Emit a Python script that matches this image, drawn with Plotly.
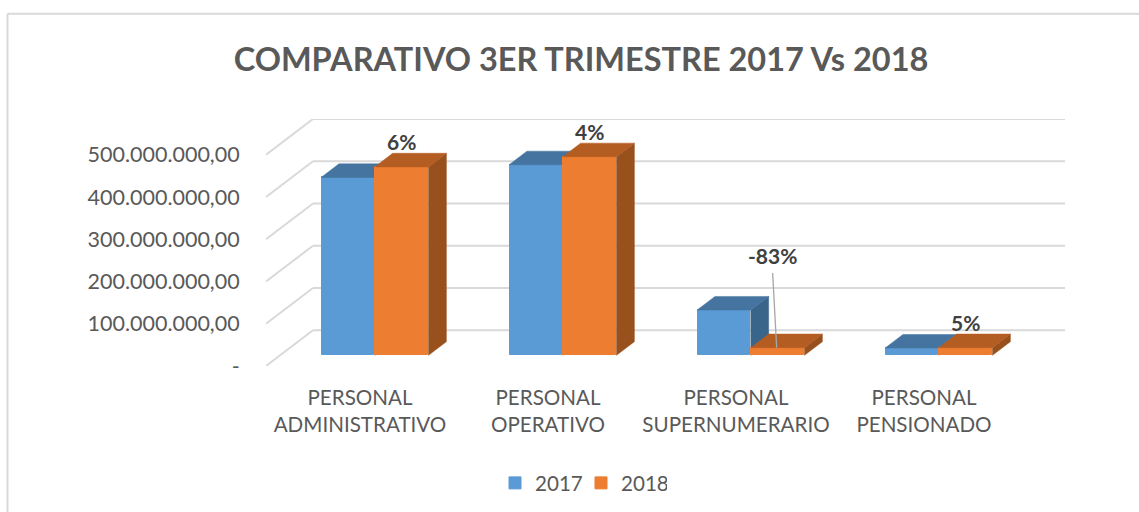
import plotly.graph_objects as go

categories = ["PERSONAL<br>ADMINISTRATIVO", "PERSONAL<br>OPERATIVO", "PERSONAL<br>SUPERNUMERARIO", "PERSONAL<br>PENSIONADO"]
values_2017 = [421e6, 451e6, 107e6, 17e6]
values_2018 = [446e6, 470e6, 18e6, 18e6]
change_labels = ["6%", "4%", "-83%", "5%"]
tick_values = [0, 100e6, 200e6, 300e6, 400e6, 500e6]
tick_labels = ["-", "100.000.000,00", "200.000.000,00", "300.000.000,00", "400.000.000,00", "500.000.000,00"]

W, H = 1139, 512
L, R, T, B = 266, 1065, 119, 365.7
PX_X = (R - L) / 4.25            # px per category
DEPTH_X = 47 / PX_X              # full floor depth in category units
DEPTH_Y = 84.8e6                 # full floor depth in value units
PX_Y = (B - T) / (500e6 + DEPTH_Y)
BAR_W = 53.7 / PX_X
NUDGE = 0.7 / PX_X
D0, D1 = 0.30, 0.68
FONT = "Lato"
GREY = "#595959"
GRID = "#d9d9d9"

fig = go.Figure()


def add_series(name, values, side, color, top_col, side_col, xa, ya):
    xs = [i + NUDGE + D0 * DEPTH_X + side * BAR_W / 2 for i in range(len(values))]
    base = D0 * DEPTH_Y
    fig.add_trace(go.Bar(x=xs, y=values, base=[base] * len(values), width=BAR_W - 1 / PX_X, name=name,
                         marker=dict(color=color, line=dict(color=color, width=1)),
                         xaxis=xa, yaxis=ya, hoverinfo="skip"))
    ddx, ddy = (D1 - D0) * DEPTH_X, (D1 - D0) * DEPTH_Y
    for x, v in zip(xs, values):
        l, r, b, t = x - BAR_W / 2, x + BAR_W / 2, base, base + v
        fig.add_trace(go.Scatter(x=[r, r + ddx, r + ddx, r, r], y=[b, b + ddy, t + ddy, t, b], mode="lines", fill="toself",
                                 fillcolor=side_col, line=dict(color=side_col, width=0.5), showlegend=False,
                                 xaxis=xa, yaxis=ya, hoverinfo="skip"))
        fig.add_trace(go.Scatter(x=[l, r, r + ddx, l + ddx, l], y=[t, t, t + ddy, t + ddy, t], mode="lines", fill="toself",
                                 fillcolor=top_col, line=dict(color=top_col, width=0.5), showlegend=False,
                                 xaxis=xa, yaxis=ya, hoverinfo="skip"))


add_series("2017", values_2017, -1, "#5B9BD5", "#44749F", "#3A658B", "x", "y")
add_series("2018", values_2018, 1, "#ED7D31", "#B45D22", "#98501C", "x2", "y2")

# wall / floor gridlines
for v in tick_values:
    fig.add_shape(type="line", xref="x", yref="y", x0=-0.5, y0=v, x1=-0.5 + DEPTH_X, y1=v + DEPTH_Y,
                  line=dict(color=GRID, width=2), layer="below")
    fig.add_shape(type="line", xref="x", yref="y", x0=-0.5 + DEPTH_X, y0=v + DEPTH_Y, x1=3.5 + DEPTH_X, y1=v + DEPTH_Y,
                  line=dict(color=GRID, width=2), layer="below")


def paper_x(px):
    return (px - L) / (R - L)


def paper_y(py):
    return (B - py) / (B - T)


# chart frame, open to the right and bottom edges of the picture
fig.add_shape(type="line", xref="paper", yref="paper", x0=paper_x(7.5), y0=paper_y(14), x1=paper_x(W), y1=paper_y(14),
              line=dict(color=GRID, width=2))
fig.add_shape(type="line", xref="paper", yref="paper", x0=paper_x(7.5), y0=paper_y(14), x1=paper_x(7.5), y1=paper_y(H),
              line=dict(color=GRID, width=2))

# data labels
for i, (txt, v) in enumerate(zip(change_labels, values_2018)):
    lifted = txt == "-83%"
    top = D1 * DEPTH_Y + v
    x = i + NUDGE + D0 * DEPTH_X + BAR_W / 2
    fig.add_annotation(x=x - (5 / PX_X if lifted else 0), y=top, xref="x", yref="y", text=txt, showarrow=False,
                       yanchor="middle", yshift=79 if lifted else 11.5,
                       font=dict(family=FONT, size=21, color="#404040", weight="bold"))
    if lifted:
        fig.add_shape(type="line", xref="x", yref="y", x0=x - 5 / PX_X, x1=x - 1 / PX_X,
                      y0=top + 61 / PX_Y, y1=D0 * DEPTH_Y + v, line=dict(color="#a6a6a6", width=1.3))

x_font = dict(family=FONT, size=20.6, color=GREY)
y_font = dict(family=FONT, size=21.5, color=GREY)
x_range = [-0.5, 3.5 + DEPTH_X]
y_range = [0, 500e6 + DEPTH_Y]
fig.update_layout(
    width=W, height=H, autosize=False,
    margin=dict(l=L, r=W - R, t=T, b=H - B),
    paper_bgcolor="white", plot_bgcolor="white",
    barmode="overlay", bargap=0,
    title=dict(text="<b>COMPARATIVO 3ER TRIMESTRE 2017 Vs 2018</b>", x=581 / W, xanchor="center", y=1 - 60 / H, yanchor="middle",
               font=dict(family=FONT, size=32.5, color=GREY)),
    xaxis=dict(range=x_range, tickmode="array", tickvals=list(range(len(categories))), ticktext=categories,
               tickfont=x_font, showgrid=False, zeroline=False, showline=False, ticks="outside", ticklen=13,
               tickcolor="rgba(0,0,0,0)", fixedrange=True),
    yaxis=dict(range=y_range, tickmode="array", tickvals=tick_values, ticktext=tick_labels, tickfont=y_font,
               showgrid=False, zeroline=False, showline=False, ticks="outside", ticklen=21,
               tickcolor="rgba(0,0,0,0)", fixedrange=True),
    xaxis2=dict(range=x_range, overlaying="x", visible=False, fixedrange=True),
    yaxis2=dict(range=y_range, overlaying="y", visible=False, fixedrange=True),
    legend=dict(orientation="h", xref="container", yref="container", x=495 / W, xanchor="left", y=1 - 483 / H, yanchor="middle",
                font=x_font, bgcolor="rgba(0,0,0,0)", itemwidth=30, entrywidth=41, entrywidthmode="pixels"),
    showlegend=True,
)
fig.write_html("out.html", post_script="document.body.style.margin='0';", config={"displayModeBar": False})
